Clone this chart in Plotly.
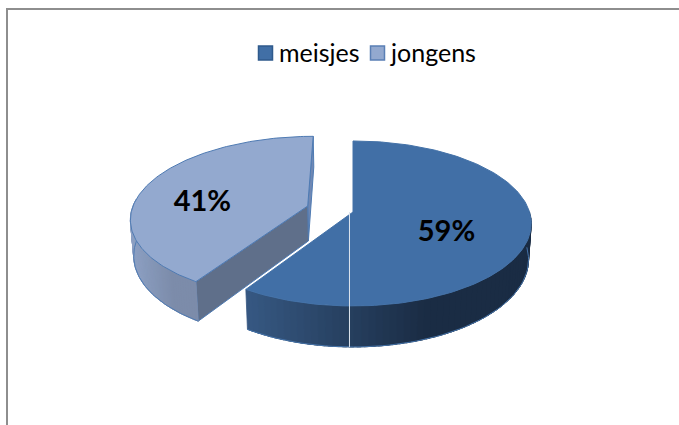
import math
import plotly.graph_objects as go

# ---- data ----
categories = ["meisjes", "jongens"]
values = [59, 41]
labels = ["59%", "41%"]
explode = [0.0, 0.27]
label_radius = [0.54, 0.65]
label_drop = [9, 12]

top_colors = ["#416fa6", "#93a9cf"]
edge_colors = ["#4472a8", "#4f7bb3"]
swatch_edges = ["#2f5a8c", "#5a7fb5"]
wall_left = [(54, 88, 130), (141, 160, 195)]
wall_right = [(26, 44, 68), (124, 140, 170)]
cut_color = "#5f6f8a"
sliver_color = "#6f88b4"
seam_color = "#dfe6ef"
frame_color = "#8e8e8e"
legend_swatch_x = [265.5, 377.5]
legend_text_x = [280, 391]
legend_y = 53

# ---- projection of the tilted pie ----
W, H = 679, 425
CX, CY, A, B, K = 353.0, 212.0, 176.5, 80.9, 0.139
DEPTH, INSET = 35.3, 0.985


def project(u, v, bottom=False):
    w = 1 + K * v
    x, y = A * u / w, -B * v / w
    if bottom:
        x *= INSET
        y += DEPTH / w
    return CX + x, CY + y


total = sum(values)
slices = []
start = 0.0
for val, ex in zip(values, explode):
    sweep = 360.0 * val / total
    mid = math.radians(start + sweep / 2)
    slices.append(dict(a0=start, a1=start + sweep,
                       ox=ex * math.sin(mid), oy=ex * math.cos(mid), mid=mid))
    start += sweep


def pt(s, deg, r=1.0, bottom=False):
    t = math.radians(deg)
    return project(s["ox"] + r * math.sin(t), s["oy"] + r * math.cos(t), bottom)


def poly(points, color, line=None, width=1.0):
    xs = [p[0] for p in points] + [points[0][0]]
    ys = [p[1] for p in points] + [points[0][1]]
    return go.Scatter(x=xs, y=ys, mode="lines", fill="toself", fillcolor=color,
                      line=dict(color=line or color, width=width),
                      hoverinfo="skip", showlegend=False)


def mix(c0, c1, f):
    return "rgb(%d,%d,%d)" % tuple(round(a + (b - a) * f) for a, b in zip(c0, c1))


fig = go.Figure()

for i in (1, 0):
    s = slices[i]
    if i == 1:
        fig.add_trace(poly([pt(s, s["a1"]), pt(s, s["a1"], bottom=True),
                            pt(s, 0, 0, bottom=True), pt(s, 0, 0)],
                           sliver_color, edge_colors[1]))
        fig.add_trace(poly([pt(s, s["a0"]), pt(s, s["a0"], bottom=True),
                            pt(s, 0, 0, bottom=True), pt(s, 0, 0)],
                           cut_color, edge_colors[1]))
        wall_from, wall_to = s["a0"], 275.0
    else:
        wall_from, wall_to = 90.0, s["a1"]

    lo, hi = min(wall_from, wall_to), max(wall_from, wall_to)
    steps = 60
    pts = [pt(s, lo + (hi - lo) * n / steps) for n in range(steps + 1)]
    xmin, xmax = min(p[0] for p in pts), max(p[0] for p in pts)
    for n in range(steps):
        d0 = lo + (hi - lo) * n / steps
        d1 = lo + (hi - lo) * (n + 1.6) / steps
        if d1 > hi:
            d1 = hi
        cx = (pt(s, d0)[0] + pt(s, d1)[0]) / 2
        f = min(1.0, (cx - xmin) / (0.62 * (xmax - xmin)))
        col = mix(wall_left[i], wall_right[i], f)
        fig.add_trace(poly([pt(s, d0), pt(s, d1), pt(s, d1, bottom=True),
                            pt(s, d0, bottom=True)], col, col, 0.8))
    low = [pt(s, lo + (hi - lo) * n / steps, bottom=True) for n in range(steps + 1)]
    fig.add_trace(go.Scatter(x=[p[0] for p in low], y=[p[1] for p in low], mode="lines",
                             line=dict(color=edge_colors[i], width=1),
                             hoverinfo="skip", showlegend=False))
    arc = [pt(s, s["a0"] + (s["a1"] - s["a0"]) * n / 160) for n in range(161)]
    fig.add_trace(poly(arc + [pt(s, 0, 0)], top_colors[i], edge_colors[i]))

seam_top = project(-0.02, 0.0)
seam_deg = 181.0
seam_low = pt(slices[0], seam_deg, bottom=True)
fig.add_trace(go.Scatter(x=[seam_low[0], seam_low[0], seam_top[0]],
                         y=[seam_low[1], pt(slices[0], seam_deg)[1], seam_top[1]],
                         mode="lines", line=dict(color=seam_color, width=1),
                         hoverinfo="skip", showlegend=False))

lx, ly = [], []
for s, r, drop in zip(slices, label_radius, label_drop):
    px, py = project(s["ox"] + r * math.sin(s["mid"]), s["oy"] + r * math.cos(s["mid"]))
    lx.append(px)
    ly.append(py + drop)
fig.add_trace(go.Scatter(x=lx, y=ly, mode="text", text=labels,
                         textposition="middle center",
                         textfont=dict(family="Lato", size=29, color="#000000", weight="bold"),
                         hoverinfo="skip", showlegend=False))

# legend keys and names
fig.add_trace(go.Scatter(x=legend_swatch_x, y=[legend_y] * len(categories), mode="markers",
                         marker=dict(symbol="square", size=14, color=top_colors,
                                     line=dict(color=swatch_edges, width=1.5)),
                         hoverinfo="skip", showlegend=False))
annotations = [dict(x=x, y=legend_y, xref="x", yref="y", text=name, showarrow=False,
                    xanchor="left", yanchor="middle", xshift=-3, yshift=1,
                    font=dict(family="Lato", size=25, color="#000000"))
               for name, x in zip(categories, legend_text_x)]

fig.update_layout(
    width=W, height=H, margin=dict(l=0, r=0, t=0, b=0),
    paper_bgcolor="white", plot_bgcolor="white", showlegend=False,
    xaxis=dict(range=[0, W], visible=False, fixedrange=True),
    yaxis=dict(range=[H, 0], visible=False, fixedrange=True),
    annotations=annotations,
    shapes=[
        dict(type="line", xref="paper", yref="paper", x0=7 / W, x1=7 / W, y0=0, y1=1 - 8 / H,
             line=dict(color=frame_color, width=2)),
        dict(type="line", xref="paper", yref="paper", x0=6 / W, x1=1, y0=1 - 9 / H, y1=1 - 9 / H,
             line=dict(color=frame_color, width=2)),
    ],
)

fig.write_html("out.html", config=dict(displayModeBar=False),
               post_script="document.body.style.margin='0';")
